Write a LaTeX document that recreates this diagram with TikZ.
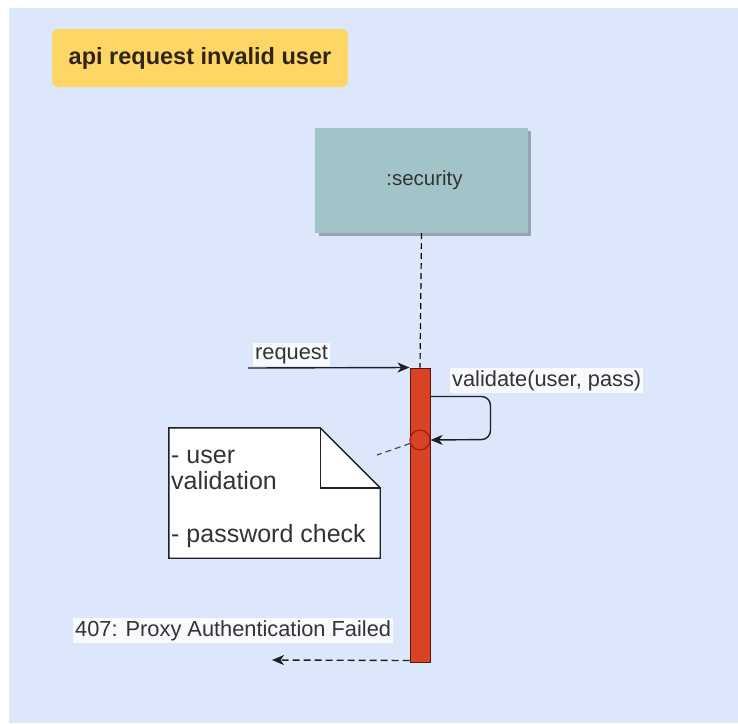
\documentclass[tikz,border=0pt]{standalone}
\usepackage{fontspec}
\setmainfont{Liberation Sans}
\usetikzlibrary{arrows.meta}

\definecolor{canvas}{RGB}{221,231,252}
\definecolor{titleyellow}{RGB}{253,214,102}
\definecolor{titleink}{RGB}{48,36,20}
\definecolor{objfill}{RGB}{162,196,201}
\definecolor{objshadow}{RGB}{146,166,176}
\definecolor{barred}{RGB}{216,67,38}
\definecolor{bardark}{RGB}{92,22,10}
\definecolor{ringred}{RGB}{160,30,18}
\definecolor{inkgray}{RGB}{51,51,51}
\definecolor{wire}{RGB}{28,30,40}

\begin{document}
\begin{tikzpicture}[x=1pt,y=-1pt,
  titlebox/.style={fill=titleyellow, rounded corners=6pt, minimum width=296pt,
    minimum height=58pt, inner sep=0pt, text=titleink,
    font=\fontsize{23.5}{28}\selectfont\bfseries},
  objbox/.style={fill=objfill, minimum width=213pt, minimum height=105pt,
    inner sep=0pt, text=inkgray, font=\fontsize{20.5}{24}\selectfont},
  actbar/.style={fill=barred, draw=bardark, line width=1pt,
    minimum width=20pt, minimum height=294pt, inner sep=0pt},
  checkring/.style={circle, fill=barred, draw=ringred, line width=1.2pt,
    minimum size=20pt, inner sep=0pt},
  notebody/.style={minimum width=211pt, minimum height=130pt, inner sep=0pt},
  noteline/.style={draw=wire, line width=1.4pt, line join=miter},
  notetext/.style={align=left, inner sep=0pt, text=inkgray,
    font=\fontsize{25}{26.5}\selectfont},
  lbl/.style={fill=white, fill opacity=0.8, text opacity=1, inner xsep=2pt,
    inner ysep=2pt, text=inkgray, font=\fontsize{21.8}{26}\selectfont},
  tip/.style={-{Stealth[length=12pt,width=10pt,inset=3.5pt]}},
  msg/.style={draw=wire, line width=1.4pt, tip},
  reply/.style={draw=wire, line width=1.4pt, dash pattern=on 7pt off 4pt, tip},
  lifeline/.style={draw=black, line width=1.2pt, dash pattern=on 6pt off 4pt},
  notelink/.style={draw=wire!80, line width=1.2pt, dash pattern=on 6pt off 4pt}
]
\useasboundingbox (0,0) rectangle (738,723);
\fill[white] (0,0) rectangle (738,723);
\fill[canvas] (9,8) rectangle (738,723);

% title tag
\node[titlebox] (title) at (200,58) {api request invalid user};

% object head with its shadow
\fill[objshadow] (318.5,131) rectangle (531,236);
\node[objbox] (sec) at (421.5,180.5) {\hspace*{6pt}:security};

% lifeline and activation bar
\node[actbar] (act) at (420,515) {};
\draw[lifeline] (sec.south) -- (act.north);

% incoming request
\coordinate (reqfrom) at (248,368);
\draw[msg] (reqfrom) -- (act.north west);
\node[lbl, anchor=base west] (reqlbl) at (253,359) {request};

% self call
\node[checkring] (chk) at (420,440) {};
\draw[msg, rounded corners=9pt] ([yshift=-29pt]act.north east) -- ++(60,0) -- ++(0,43) -- (chk.east);
\node[lbl, anchor=base west] (vallbl) at (450,386) {validate(user, pass)};

% note attached to the check
\node[notebody] (note) at (274.5,493) {};
\draw[noteline, fill=white] (note.north west) -- ([xshift=-60pt]note.north east)
  -- ([yshift=-60pt]note.north east) -- (note.south east) -- (note.south west) -- cycle;
\draw[noteline] ([xshift=-60pt]note.north east) -- ([xshift=-60pt,yshift=-60pt]note.north east)
  -- ([yshift=-60pt]note.north east);
\node[notetext, anchor=base west] (notetxt) at (171,542.5) {- user\\validation\\\mbox{}\\- password check};
\coordinate (notetip) at (377,455);
\draw[notelink] (chk) -- (notetip);

% reply
\coordinate (retto) at (272,660);
\draw[reply] ([yshift=2pt]act.south west) -- (retto);
\node[lbl, anchor=base west] (retlbl) at (73,636) {407: Proxy Authentication Failed};
\end{tikzpicture}
\end{document}
